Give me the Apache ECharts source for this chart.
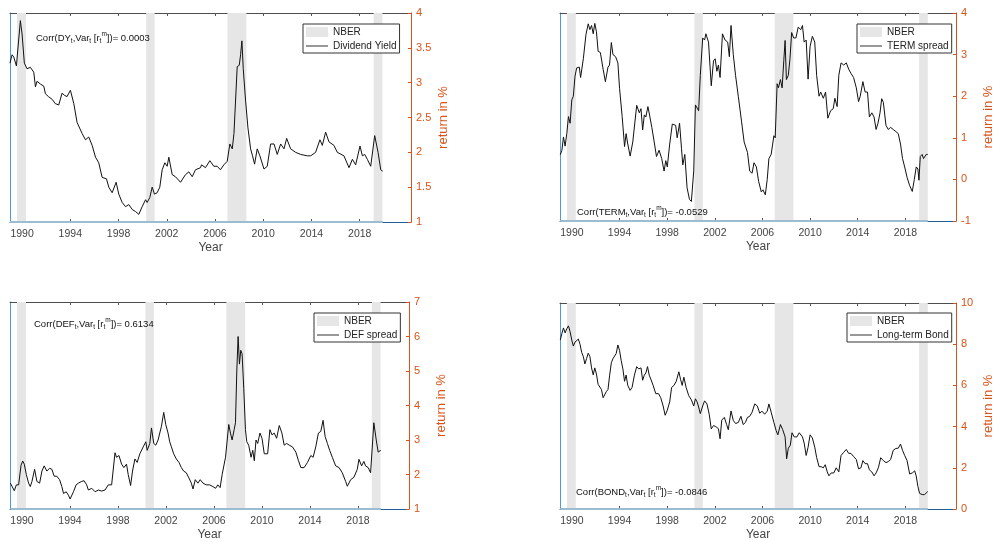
<!DOCTYPE html>
<html><head><meta charset="utf-8">
<script src="https://cdn.jsdelivr.net/npm/echarts@6/dist/echarts.min.js"></script>
<style>html,body{margin:0;padding:0;background:#fff}#c{width:996px;height:542px}</style>
</head><body><div id="c"></div>
<script>
const xTicks = [1990,1994,1998,2002,2006,2010,2014,2018];
const nberPeriods = [[1989.58,1990.33],[2000.29,2000.99],[2007.03,2008.6],[2019.15,2019.88]];

const dyData = [[1989.00,3.28],[1989.17,3.40],[1989.31,3.37],[1989.45,3.36],[1989.53,3.24],[1989.86,3.89],[1990.00,3.70],[1990.14,3.72],[1990.19,3.28],[1990.41,3.20],[1990.69,3.22],[1990.97,3.15],[1991.11,2.94],[1991.24,3.02],[1991.52,2.98],[1991.66,3.00],[1991.80,2.95],[1991.94,2.84],[1992.19,2.80],[1992.50,2.76],[1992.75,2.70],[1993.04,2.68],[1993.32,2.85],[1993.50,2.82],[1993.73,2.80],[1994.01,2.89],[1994.29,2.70],[1994.56,2.43],[1994.98,2.27],[1995.26,2.18],[1995.53,2.22],[1995.81,2.10],[1996.09,1.93],[1996.36,1.85],[1996.64,1.64],[1997.00,1.62],[1997.19,1.50],[1997.47,1.42],[1997.61,1.40],[1997.80,1.57],[1998.02,1.40],[1998.30,1.28],[1998.58,1.22],[1998.85,1.25],[1999.13,1.18],[1999.41,1.15],[1999.68,1.11],[1999.96,1.22],[2000.24,1.32],[2000.37,1.28],[2000.59,1.35],[2000.79,1.50],[2000.98,1.40],[2001.20,1.42],[2001.42,1.50],[2001.62,1.75],[2001.84,1.85],[2002.03,1.80],[2002.17,1.93],[2002.45,1.68],[2002.72,1.65],[2003.14,1.57],[2003.55,1.68],[2003.83,1.72],[2004.11,1.65],[2004.38,1.75],[2004.80,1.78],[2004.88,1.82],[2005.21,1.78],[2005.57,1.88],[2005.90,1.80],[2006.18,1.80],[2006.45,1.75],[2006.73,1.82],[2007.01,1.87],[2007.23,2.12],[2007.43,2.05],[2007.57,2.27],[2007.70,2.25],[2007.84,3.23],[2008.01,3.25],[2008.12,3.40],[2008.23,3.60],[2008.34,3.20],[2008.53,2.75],[2008.73,2.35],[2008.95,2.05],[2009.11,1.95],[2009.28,1.83],[2009.50,2.05],[2009.72,1.95],[2010.06,1.76],[2010.33,1.80],[2010.61,2.12],[2010.89,2.12],[2011.16,1.97],[2011.44,2.12],[2011.72,2.05],[2011.94,2.20],[2012.27,2.05],[2012.68,2.00],[2013.10,1.97],[2013.65,1.95],[2013.93,1.95],[2014.34,2.00],[2014.70,2.18],[2014.90,2.10],[2015.17,2.29],[2015.45,2.15],[2015.86,2.10],[2016.14,2.00],[2016.69,1.95],[2017.11,1.78],[2017.39,1.90],[2017.66,1.82],[2018.02,2.09],[2018.22,1.95],[2018.41,1.97],[2018.63,1.90],[2018.91,1.80],[2019.07,1.80],[2019.24,2.24],[2019.52,2.00],[2019.74,1.75],[2019.90,1.73]];

const termData = [[1989.02,0.59],[1989.16,0.70],[1989.29,1.02],[1989.43,0.80],[1989.57,1.10],[1989.71,1.51],[1989.85,1.35],[1989.99,1.91],[1990.12,2.00],[1990.26,2.48],[1990.40,2.68],[1990.62,2.70],[1990.73,2.45],[1990.96,2.90],[1991.18,3.48],[1991.37,3.74],[1991.51,3.60],[1991.65,3.70],[1991.79,3.50],[1991.92,3.75],[1992.06,3.55],[1992.20,3.08],[1992.39,3.05],[1992.62,2.65],[1992.81,2.35],[1993.03,2.70],[1993.16,2.75],[1993.31,3.29],[1993.45,3.00],[1993.67,2.95],[1993.86,2.80],[1994.00,2.19],[1994.22,1.51],[1994.42,0.79],[1994.55,1.10],[1994.69,0.85],[1994.89,0.56],[1995.11,0.90],[1995.44,1.78],[1995.66,1.60],[1995.80,1.70],[1995.94,1.19],[1996.08,1.55],[1996.21,1.50],[1996.38,1.75],[1996.55,1.50],[1996.71,1.25],[1996.91,0.90],[1997.10,0.55],[1997.32,0.70],[1997.54,0.50],[1997.74,0.20],[1997.88,0.45],[1998.01,0.30],[1998.21,0.85],[1998.43,1.33],[1998.71,1.30],[1998.84,1.00],[1999.04,1.35],[1999.20,0.75],[1999.31,0.35],[1999.48,0.60],[1999.67,-0.20],[1999.87,-0.48],[2000.03,-0.53],[2000.23,0.20],[2000.37,1.79],[2000.51,1.75],[2000.64,1.65],[2000.78,2.50],[2000.98,3.40],[2001.14,3.35],[2001.25,3.50],[2001.47,3.30],[2001.70,2.25],[2001.89,2.85],[2002.03,2.90],[2002.17,2.60],[2002.30,2.75],[2002.44,2.45],[2002.64,3.50],[2002.86,3.35],[2003.08,3.30],[2003.22,2.95],[2003.36,3.70],[2003.55,3.00],[2003.74,2.50],[2003.97,2.00],[2004.24,1.40],[2004.46,0.90],[2004.74,0.65],[2004.93,0.20],[2005.13,0.15],[2005.29,0.40],[2005.49,0.30],[2005.68,-0.05],[2005.90,-0.30],[2006.04,-0.25],[2006.24,-0.37],[2006.40,0.00],[2006.54,0.50],[2006.73,0.60],[2006.96,1.05],[2007.07,1.00],[2007.23,2.30],[2007.34,2.20],[2007.51,2.40],[2007.65,2.20],[2007.79,2.85],[2007.90,3.34],[2008.01,2.40],[2008.17,2.50],[2008.31,2.90],[2008.45,3.53],[2008.62,3.40],[2008.81,3.40],[2009.00,3.66],[2009.22,3.60],[2009.36,3.70],[2009.50,3.30],[2009.67,3.35],[2009.83,2.41],[2010.00,3.20],[2010.19,3.44],[2010.39,3.30],[2010.55,2.50],[2010.75,2.00],[2010.89,2.10],[2011.11,1.95],[2011.30,2.10],[2011.49,1.47],[2011.72,1.65],[2011.94,1.70],[2012.08,1.95],[2012.27,1.75],[2012.41,2.50],[2012.60,2.80],[2012.82,2.75],[2013.04,2.80],[2013.24,2.65],[2013.43,2.55],[2013.65,2.45],[2013.88,2.20],[2014.07,1.87],[2014.21,2.00],[2014.43,2.35],[2014.62,2.10],[2014.82,2.10],[2014.98,1.50],[2015.18,1.60],[2015.37,1.50],[2015.54,1.20],[2015.70,1.35],[2015.87,1.60],[2016.01,1.94],[2016.15,1.85],[2016.37,1.30],[2016.56,1.20],[2016.76,1.25],[2016.98,1.20],[2017.20,1.15],[2017.40,1.10],[2017.59,0.85],[2017.76,0.50],[2017.94,0.30],[2018.14,0.05],[2018.36,-0.15],[2018.58,-0.29],[2018.75,0.00],[2018.91,0.30],[2019.05,0.25],[2019.14,-0.02],[2019.25,0.55],[2019.41,0.60],[2019.52,0.50],[2019.75,0.60],[2019.88,0.60]];

const defData = [[1989.03,1.75],[1989.17,1.70],[1989.36,1.53],[1989.53,1.70],[1989.72,1.70],[1989.92,2.27],[1990.06,2.39],[1990.19,2.30],[1990.36,2.00],[1990.55,1.75],[1990.69,1.65],[1990.83,1.80],[1991.05,2.15],[1991.24,1.80],[1991.47,1.75],[1991.66,2.10],[1991.85,2.25],[1992.07,2.10],[1992.30,2.18],[1992.49,2.15],[1992.68,1.95],[1992.90,1.95],[1993.13,1.85],[1993.32,1.65],[1993.46,1.45],[1993.68,1.50],[1993.87,1.40],[1994.01,1.29],[1994.29,1.50],[1994.51,1.70],[1994.70,1.75],[1994.98,1.80],[1995.17,1.82],[1995.39,1.70],[1995.53,1.55],[1995.81,1.60],[1996.09,1.50],[1996.36,1.55],[1996.64,1.52],[1996.92,1.55],[1997.19,1.70],[1997.47,1.70],[1997.61,1.70],[1997.75,2.63],[1997.88,2.50],[1998.08,2.55],[1998.30,2.30],[1998.49,2.20],[1998.71,2.30],[1998.85,2.00],[1999.05,1.68],[1999.21,2.10],[1999.41,2.45],[1999.60,2.35],[1999.82,2.60],[1999.96,2.55],[2000.10,2.80],[2000.32,2.95],[2000.43,2.70],[2000.65,2.90],[2000.79,3.35],[2000.98,2.90],[2001.15,2.85],[2001.34,3.00],[2001.62,3.40],[2001.81,3.80],[2001.98,3.45],[2002.17,3.20],[2002.31,2.95],[2002.45,2.80],[2002.64,2.60],[2002.86,2.45],[2003.08,2.35],[2003.28,2.20],[2003.47,2.10],[2003.69,2.05],[2003.91,1.90],[2004.11,1.75],[2004.25,1.58],[2004.44,1.85],[2004.66,1.75],[2004.85,1.85],[2005.08,1.75],[2005.35,1.70],[2005.63,1.70],[2005.91,1.65],[2006.13,1.60],[2006.32,1.70],[2006.51,1.62],[2006.68,2.00],[2006.79,1.95],[2006.96,2.50],[2007.23,3.45],[2007.37,3.20],[2007.51,3.00],[2007.68,3.30],[2007.79,3.50],[2007.90,5.00],[2008.01,6.00],[2008.12,5.20],[2008.23,5.60],[2008.34,5.50],[2008.48,4.50],[2008.62,3.30],[2008.73,2.95],[2008.89,2.85],[2009.09,2.50],[2009.23,2.70],[2009.36,2.40],[2009.50,3.00],[2009.64,2.90],[2009.83,3.20],[2010.00,3.05],[2010.19,2.60],[2010.47,2.60],[2010.66,3.30],[2010.83,3.15],[2011.02,3.20],[2011.22,3.05],[2011.44,3.42],[2011.66,3.20],[2011.85,2.85],[2012.05,2.90],[2012.27,2.85],[2012.54,2.80],[2012.82,2.65],[2013.04,2.40],[2013.24,2.20],[2013.51,2.20],[2013.79,2.35],[2014.07,2.55],[2014.26,2.50],[2014.48,2.80],[2014.70,3.20],[2014.90,3.25],[2015.09,3.57],[2015.26,3.10],[2015.45,2.90],[2015.64,2.70],[2015.86,2.50],[2016.14,2.25],[2016.42,2.20],[2016.69,2.05],[2016.97,1.80],[2017.11,1.66],[2017.39,1.85],[2017.66,1.92],[2017.94,2.15],[2018.08,2.44],[2018.30,2.25],[2018.49,2.38],[2018.63,2.25],[2018.85,2.20],[2019.05,2.05],[2019.13,2.05],[2019.32,3.50],[2019.52,3.00],[2019.68,2.65],[2019.90,2.70]];

const bondData = [[1989.02,8.20],[1989.16,8.52],[1989.29,8.79],[1989.43,8.55],[1989.57,8.75],[1989.71,8.89],[1989.85,8.60],[1989.99,8.20],[1990.12,7.91],[1990.26,8.10],[1990.40,8.05],[1990.54,8.25],[1990.68,8.00],[1990.82,7.60],[1990.96,7.40],[1991.09,7.04],[1991.23,7.30],[1991.37,7.56],[1991.51,7.40],[1991.65,6.85],[1991.79,6.51],[1991.92,6.85],[1992.06,6.55],[1992.20,6.05],[1992.34,6.00],[1992.48,5.80],[1992.62,5.40],[1992.75,5.35],[1992.89,5.70],[1993.03,5.80],[1993.17,6.50],[1993.31,7.10],[1993.45,7.30],[1993.58,7.25],[1993.72,7.55],[1993.86,7.96],[1994.00,7.70],[1994.14,7.20],[1994.28,6.80],[1994.42,6.20],[1994.55,6.50],[1994.69,6.00],[1994.89,5.76],[1995.05,5.90],[1995.25,6.50],[1995.44,6.91],[1995.61,6.80],[1995.80,6.85],[1995.94,6.25],[1996.08,6.50],[1996.21,6.60],[1996.35,6.91],[1996.49,6.50],[1996.63,6.30],[1996.82,6.00],[1997.04,5.60],[1997.27,5.60],[1997.46,5.40],[1997.66,5.00],[1997.83,4.55],[1998.01,4.80],[1998.21,5.20],[1998.37,5.90],[1998.57,6.00],[1998.76,6.20],[1998.98,6.66],[1999.12,6.30],[1999.26,6.00],[1999.40,6.40],[1999.59,5.90],[1999.81,5.50],[2000.03,5.30],[2000.23,5.00],[2000.37,5.35],[2000.51,5.20],[2000.64,4.95],[2000.78,4.63],[2000.98,5.00],[2001.14,5.25],[2001.34,5.10],[2001.53,4.60],[2001.70,3.89],[2001.89,4.05],[2002.08,4.00],[2002.30,3.90],[2002.44,3.41],[2002.58,4.31],[2002.80,4.45],[2002.99,4.10],[2003.13,3.85],[2003.36,4.76],[2003.55,4.30],[2003.74,4.15],[2003.97,4.20],[2004.19,4.50],[2004.38,4.10],[2004.57,4.20],[2004.74,4.45],[2004.93,4.50],[2005.13,4.70],[2005.35,5.10],[2005.57,5.00],[2005.77,4.65],[2005.96,4.75],[2006.18,4.60],[2006.40,4.75],[2006.54,5.10],[2006.73,4.70],[2006.96,4.20],[2007.15,3.80],[2007.29,3.60],[2007.51,4.10],[2007.70,3.85],[2007.90,3.50],[2008.03,2.44],[2008.17,2.95],[2008.34,3.10],[2008.48,3.70],[2008.67,3.50],[2008.89,3.50],[2009.09,3.70],[2009.22,3.79],[2009.36,3.50],[2009.50,3.20],[2009.67,2.60],[2009.83,3.00],[2010.00,3.60],[2010.19,3.45],[2010.39,3.00],[2010.55,2.50],[2010.75,2.06],[2010.94,2.05],[2011.11,2.00],[2011.27,2.15],[2011.44,1.80],[2011.58,1.61],[2011.77,1.75],[2011.99,1.75],[2012.19,2.00],[2012.41,1.80],[2012.60,2.60],[2012.82,2.75],[2013.04,2.89],[2013.24,2.70],[2013.43,2.70],[2013.65,2.55],[2013.88,2.40],[2014.07,1.95],[2014.27,2.00],[2014.43,2.35],[2014.62,2.20],[2014.82,2.20],[2014.98,1.90],[2015.18,1.80],[2015.37,1.61],[2015.54,1.75],[2015.73,2.00],[2015.93,2.49],[2016.15,2.35],[2016.37,2.25],[2016.56,2.30],[2016.76,2.40],[2016.98,2.85],[2017.20,2.94],[2017.40,2.95],[2017.59,3.15],[2017.76,2.85],[2017.94,2.60],[2018.14,2.35],[2018.36,1.70],[2018.58,1.75],[2018.78,1.85],[2018.91,1.60],[2019.05,1.10],[2019.19,0.76],[2019.41,0.70],[2019.61,0.70],[2019.88,0.85]];

const seriesNames = ['Dividend Yield','TERM spread','DEF spread','Long-term Bond'];
const corrVars = ['DY','TERM','DEF','BOND'];
const corrValues = ['0.0003','-0.0529','0.6134','-0.0846'];
const yMins = [1,-1,1,0];
const yMaxs = [4,4,7,10];
const yIntervals = [0.5,1,1,2];
const allData = [dyData, termData, defData, bondData];

const FONT = 'Liberation Sans, Arial, Helvetica, sans-serif';
const ORANGE = '#D95319';
const LINE_ICON = 'path://M0,0h0.05v0.05h-0.05z M0,9.95h0.05v0.05h-0.05z M0,4.5h22v1.1h-22z';
const panels = [
  {grid:{left:10, top:13, width:401, height:209}, legend:{left:303, top:24}, note:{x:36, y:38}},
  {grid:{left:560, top:13, width:400, height:208}, legend:{left:857, top:24}, note:{x:577, y:212}},
  {grid:{left:10, top:302, width:399, height:208}, legend:{left:314, top:313}, note:{x:34, y:324}},
  {grid:{left:560, top:303, width:398, height:207}, legend:{left:847, top:313}, note:{x:576, y:492}}
];

const option = {animation:false, backgroundColor:'#fff', textStyle:{fontFamily:FONT},
  grid:[], xAxis:[], yAxis:[], series:[], legend:[], graphic:[]};

panels.forEach((p, i) => {
  option.grid.push(Object.assign({containLabel:false}, p.grid));
  option.xAxis.push({gridIndex:i, type:'value', min:1989, max:2022.25, position:'bottom',
    axisLine:{onZero:false, lineStyle:{color:'#1f5f99', width:1}},
    axisTick:{inside:true, length:3, customValues:xTicks, lineStyle:{color:'#555'}},
    axisLabel:{customValues:xTicks, formatter:v => String(v), color:'#444', fontSize:10.5, margin:7, fontFamily:FONT},
    splitLine:{show:false},
    name:'Year', nameLocation:'middle', nameGap:20, nameTextStyle:{color:'#444', fontSize:12, fontFamily:FONT}});
  option.xAxis.push({gridIndex:i, type:'value', min:1989, max:2022.25, position:'top',
    axisLine:{onZero:false, lineStyle:{color:'#4d4d4d', width:1}},
    axisTick:{inside:true, length:3, customValues:xTicks, lineStyle:{color:'#555'}},
    axisLabel:{show:false}, splitLine:{show:false}});
  option.yAxis.push({gridIndex:i, type:'value', position:'right', min:yMins[i], max:yMaxs[i], interval:yIntervals[i],
    axisLine:{show:true, onZero:false, lineStyle:{color:ORANGE, width:1}},
    axisTick:{show:true, inside:true, length:3, lineStyle:{color:ORANGE}},
    axisLabel:{color:ORANGE, fontSize:11, margin:5, fontFamily:FONT, showMinLabel:true, showMaxLabel:true},
    splitLine:{show:false},
    name:'return in %', nameLocation:'middle', nameRotate:90, nameGap:26,
    nameTextStyle:{color:ORANGE, fontSize:13, fontFamily:FONT}});
  option.yAxis.push({gridIndex:i, type:'value', position:'left', min:0, max:1,
    axisLine:{show:true, onZero:false, lineStyle:{color:'#4a9bd9', width:1}},
    axisTick:{show:false}, axisLabel:{show:false}, splitLine:{show:false}});

  const d = allData[i];
  option.series.push({type:'line', name:'NBER', xAxisIndex:2*i, yAxisIndex:2*i, data:[],
    itemStyle:{color:'#e6e6e6'}, lineStyle:{color:'#e6e6e6'}, symbol:'none', z:1,
    markArea:{silent:true, itemStyle:{color:'#e6e6e6', opacity:1},
      data: nberPeriods.map(r => [{xAxis:r[0]}, {xAxis:r[1]}])}});
  option.series.push({type:'line', name:'base'+i, xAxisIndex:2*i, yAxisIndex:2*i,
    data:[[d[0][0], yMins[i]], [d[d.length-1][0], yMins[i]]], symbol:'none', clip:false, silent:true,
    lineStyle:{color:'#9dbbd1', width:2}, z:3});
  option.series.push({type:'line', name:seriesNames[i], xAxisIndex:2*i, yAxisIndex:2*i, data:d,
    symbol:'none', showSymbol:false, itemStyle:{color:'#111'}, lineStyle:{color:'#111', width:1}, z:4});

  option.legend.push({left:p.legend.left, top:p.legend.top, orient:'vertical', selectedMode:false,
    data:[{name:'NBER', icon:'rect'}, {name:seriesNames[i], icon:LINE_ICON, itemStyle:{color:'#333'}}],
    itemWidth:22, itemHeight:10, itemGap:4, padding:[3,3,2,3],
    borderColor:'#333', borderWidth:1, backgroundColor:'#fff', borderRadius:0,
    textStyle:{fontSize:10, color:'#222', fontFamily:FONT}});

  option.graphic.push({type:'text', left:p.note.x, top:p.note.y - 7, z:10,
    style:{text:'{n|Corr(' + corrVars[i] + '}{s|t}{n|,Var}{s|t}{n| [r}{s|t}{p|m}{n|])= ' + corrValues[i] + '}',
      rich:{n:{fontSize:9.5, lineHeight:14, fill:'#111', fontFamily:FONT},
            s:{fontSize:6.5, lineHeight:8, verticalAlign:'bottom', fill:'#111', fontFamily:FONT},
            p:{fontSize:6.5, lineHeight:8, verticalAlign:'top', fill:'#111', fontFamily:FONT}}}});
});

const chart = echarts.init(document.getElementById('c'), null, {renderer:'canvas'});
chart.setOption(option);
</script></body></html>
